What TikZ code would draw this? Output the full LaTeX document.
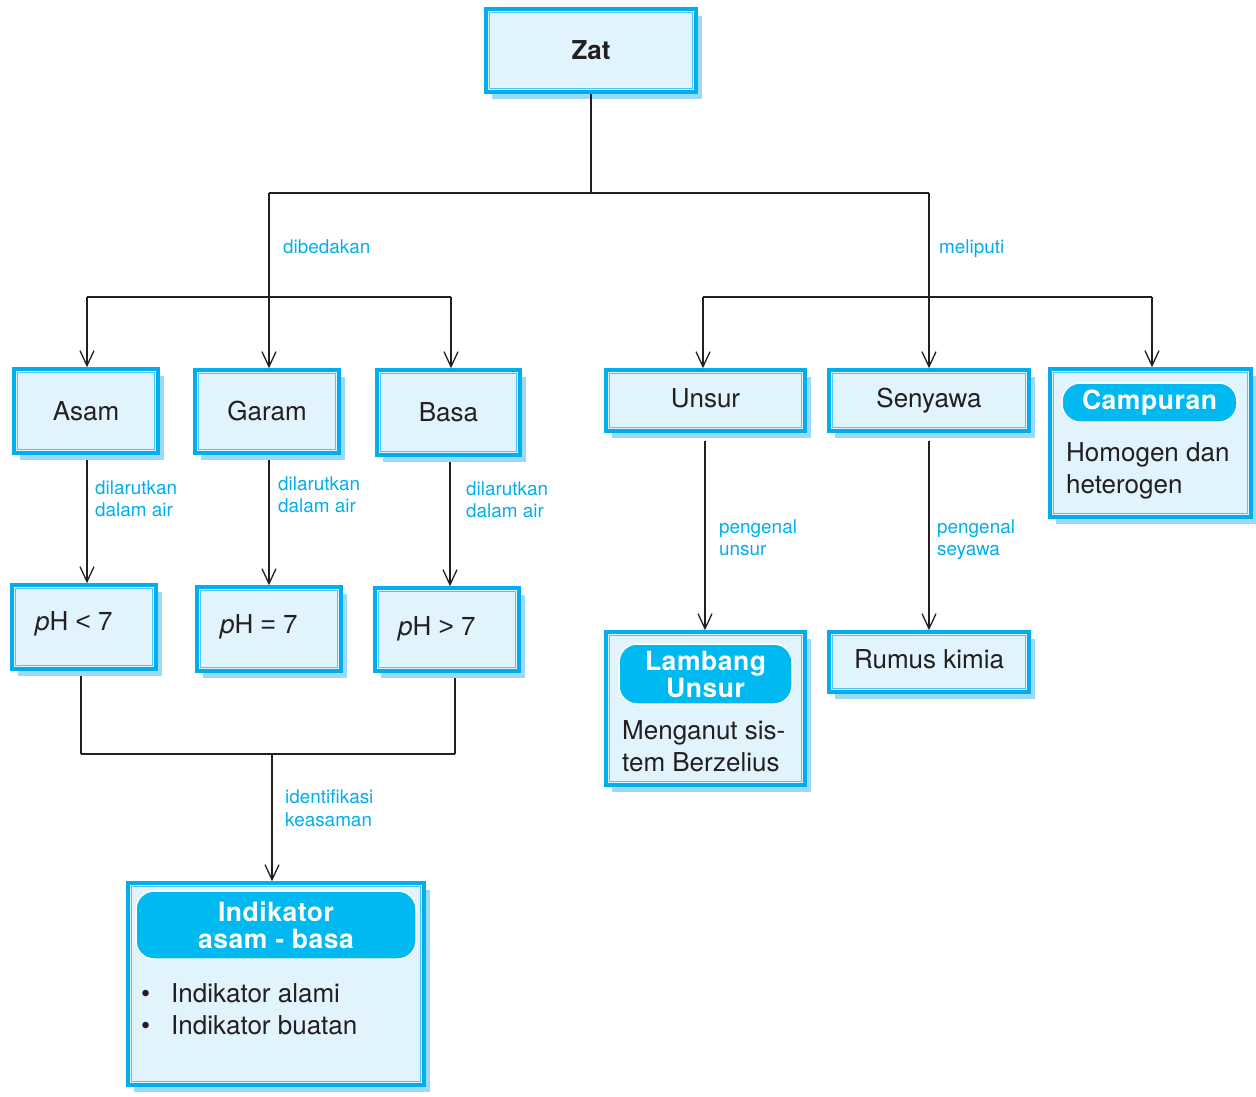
\documentclass[tikz,border=0pt]{standalone}
\usepackage{fontspec}
\setmainfont{TeX Gyre Heros}
\newfontfamily\libfont{Liberation Sans}
\usetikzlibrary{arrows.meta,shadows,calc}
\definecolor{cyanb}{HTML}{00AEEF}
\definecolor{innerl}{HTML}{4DC6F2}
\definecolor{fillc}{HTML}{E1F3FC}
\definecolor{shadowc}{HTML}{9ADAF6}
\definecolor{pillc}{HTML}{00B9F1}
\definecolor{labelc}{HTML}{00AEEF}
\definecolor{linec}{HTML}{231F20}
\newcommand{\mainfs}{\fontsize{26pt}{32pt}\selectfont}
\newcommand{\labfs}{\fontsize{18.9pt}{22.5pt}\selectfont}
\newcommand{\pillfs}{\fontsize{26.5pt}{27pt}\selectfont\bfseries\addfontfeatures{LetterSpace=2}}
\tikzset{
  zbox/.style={draw=cyanb, line width=3.6pt, fill=fillc, inner sep=0pt,
    drop shadow={shadow xshift=6pt, shadow yshift=-7pt, fill=shadowc, opacity=1, draw=none},
    path picture={\draw[innerl, line width=1.2pt]
      ([shift={(3.8pt,-3.8pt)}]path picture bounding box.north west) rectangle
      ([shift={(-3.8pt,3.8pt)}]path picture bounding box.south east);},
    font=\mainfs, text=linec, text height=18.7pt, text depth=0pt},
  pill/.style={draw=white, line width=1.5pt, fill=pillc, rounded corners=18pt,
    inner sep=0pt, font=\pillfs, text=white, align=center},
  lab/.style={font=\labfs, text=labelc, align=left, inner sep=0pt, anchor=north west},
  body/.style={font=\mainfs, text=linec, align=left, inner sep=0pt, anchor=north west},
  btxt/.style={font=\mainfs, text=linec, inner sep=0pt, anchor=west, text height=18.7pt, text depth=0pt},
  conn/.style={draw=linec, line width=1.3pt},
  arr/.style={conn, -{Straight Barb[length=15pt,width=14pt,line width=1.3pt]}},
}
\begin{document}
\begin{tikzpicture}[x=1pt,y=-1pt]
\useasboundingbox (0,0) rectangle (1256,1096);

% boxes
\node[zbox, minimum width=210pt, minimum height=83pt, font=\mainfs\bfseries] (zat) at (591,50.5) {Zat};
\node[zbox, minimum width=144pt, minimum height=84pt] (asam) at (86,411) {Asam};
\node[zbox, minimum width=144pt, minimum height=83pt] (garam) at (267,411.5) {Garam};
\node[zbox, minimum width=143pt, minimum height=85pt] (basa) at (448.5,412.5) {Basa};
\node[zbox, minimum width=199pt, minimum height=61pt, text depth=4pt] (unsur) at (705.5,400.5) {Unsur};
\node[zbox, minimum width=200pt, minimum height=61pt, text depth=4pt] (senyawa) at (929,400.5) {Senyawa};
\node[zbox, minimum width=201pt, minimum height=148pt] (campuran) at (1150.5,443) {};
\node[zbox, minimum width=144pt, minimum height=84pt] (ph1) at (84,627) {};
\node[zbox, minimum width=144pt, minimum height=84pt] (ph2) at (269,629) {};
\node[zbox, minimum width=144pt, minimum height=83pt] (ph3) at (447,629.5) {};
\node[zbox, minimum width=199pt, minimum height=153pt] (lambang) at (705.5,708.5) {};
\node[zbox, minimum width=200pt, minimum height=60pt, text depth=5pt] (rumus) at (929,662) {Rumus kimia};
\node[zbox, minimum width=296pt, minimum height=202pt] (indikator) at (276,984) {};

% box contents
\node[btxt] (t1) at (35,621) {\textit{p}H {\libfont<} 7};
\node[btxt] (t2) at (220,624) {\textit{p}H {\libfont=} 7};
\node[btxt] (t3) at (398,626) {\textit{p}H {\libfont>} 7};

\node[pill, minimum width=175pt, minimum height=39pt] (campill) at (1149.5,402.5) {Campuran};
\node[body] (campbody) at (1066,442) {Homogen dan\\heterogen};

\node[pill, minimum width=173pt, minimum height=60pt] (lampill) at (705.5,674) {Lambang\\Unsur};
\node[body] (lambody) at (622,720) {Menganut sis-\\tem Berzelius};

\node[pill, minimum width=280pt, minimum height=68pt] (indpill) at (276,925) {Indikator\\asam - basa};
\node[body] (indbody) at (141,983) {\makebox[30pt][l]{•}Indikator alami\\\makebox[30pt][l]{•}Indikator buatan};

% junction coordinates
\coordinate (jz) at (591,193);
\coordinate (jl) at (269,193);
\coordinate (jr) at (929,193);
\coordinate (hl1) at (87,297);
\coordinate (hl2) at (451,297);
\coordinate (hr1) at (703,297);
\coordinate (hr2) at (1152,297);
\coordinate (pl1) at (81,754);
\coordinate (pl2) at (455,754);
\coordinate (pm) at (272,754);

% connectors top
\draw[conn] (zat.south) -- (jz);
\draw[conn] (jl) -- (jr);
\draw[arr] (jl) -- (jl |- garam.north);
\draw[arr] (jr) -- (jr |- senyawa.north);
\draw[conn] (hl1) -- (hl2);
\draw[arr] (hl1) -- (hl1 |- asam.north);
\draw[arr] (hl2) -- (hl2 |- basa.north);
\draw[conn] (hr1) -- (hr2);
\draw[arr] (hr1) -- (hr1 |- unsur.north);
\draw[arr] (hr2) -- (hr2 |- campuran.north);

% acid/base to pH
\draw[arr] ([yshift=-5pt]asam.south -| hl1) -- (hl1 |- ph1.north);
\draw[arr] ([yshift=-5pt]garam.south -| jl) -- (jl |- ph2.north);
\coordinate (bx) at (450,0);
\draw[arr] ([yshift=-5pt]basa.south -| bx) -- (bx |- ph3.north);

% pH to indicator
\draw[conn] ([yshift=-5pt]ph1.south -| pl1) -- (pl1);
\draw[conn] ([yshift=-5pt]ph3.south -| pl2) -- (pl2);
\draw[conn] (pl1) -- (pl2);
\draw[arr] (pm) -- (pm |- indikator.north);

% unsur / senyawa down
\coordinate (ux) at (705,0);
\draw[arr] ([yshift=-8pt]unsur.south -| ux) -- (ux |- lambang.north);
\draw[arr] ([yshift=-8pt]senyawa.south -| jr) -- (jr |- rumus.north);

% labels
\node[lab] (l1) at (283,239.5) {dibedakan};
\node[lab] (l2) at (939,239.5) {meliputi};
\node[lab] (l3) at (95,480.5) {dilarutkan\\dalam air};
\node[lab] (l4) at (278,476.5) {dilarutkan\\dalam air};
\node[lab] (l5) at (466,481.5) {dilarutkan\\dalam air};
\node[lab] (l6) at (285,789.5) {identifikasi\\keasaman};
\node[lab] (l7) at (719,519.5) {pengenal\\unsur};
\node[lab] (l8) at (937,519.5) {pengenal\\seyawa};
\end{tikzpicture}
\end{document}
